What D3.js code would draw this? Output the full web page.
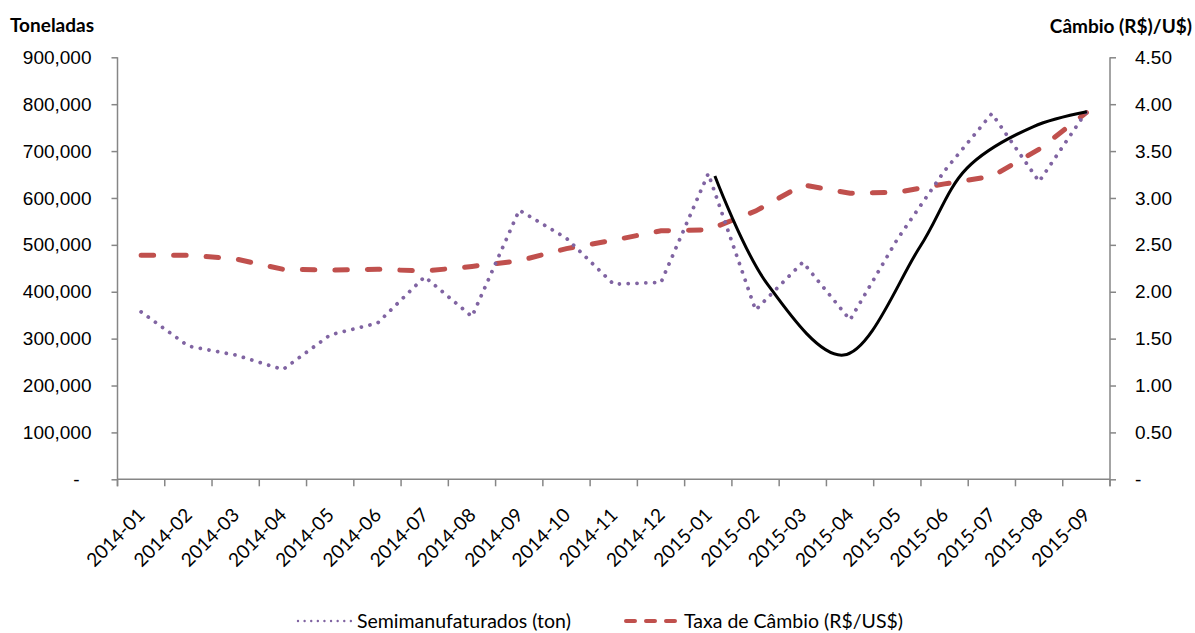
<!DOCTYPE html>
<html>
<head>
<meta charset="utf-8">
<script src="https://cdn.jsdelivr.net/npm/d3@7"></script>
<style>
  html, body { margin: 0; padding: 0; background: #fff; }
  svg { display: block; font-family: Lato, "Open Sans", sans-serif; }
</style>
</head>
<body>
<svg id="chart" width="1195" height="633"></svg>
<script>
// Monthly categories
const months = [
  "2014-01","2014-02","2014-03","2014-04","2014-05","2014-06","2014-07",
  "2014-08","2014-09","2014-10","2014-11","2014-12","2015-01","2015-02",
  "2015-03","2015-04","2015-05","2015-06","2015-07","2015-08","2015-09"
];

// Semimanufactured exports, tonnes (left axis)
const semimanufaturados = [
  357000, 284000, 265000, 234000, 308000, 333000, 432000,
  347000, 574000, 514000, 416000, 420000, 652000, 361000,
  463000, 340000, 512000, 658000, 780000, 635000, 784000
];

// Exchange rate R$/US$ (right axis)
const cambio = [
  2.39, 2.39, 2.35, 2.24, 2.23, 2.24, 2.22,
  2.27, 2.33, 2.46, 2.55, 2.65, 2.66, 2.86,
  3.14, 3.05, 3.06, 3.15, 3.23, 3.52, 3.91
];

// Freehand trend curve: [month position (0 = 2014-01), tonnes]
const trendPoints = [
  [12.14, 646700], [13.24, 417900], [14.86, 265000],
  [16.48, 496000], [17.47, 663100], [18.87, 751800], [20.01, 783800]
];

const leftTicks = [0, 100000, 200000, 300000, 400000, 500000, 600000, 700000, 800000, 900000];
const rightTicks = [0, 0.5, 1, 1.5, 2, 2.5, 3, 3.5, 4, 4.5];

const leftTitle = "Toneladas";
const rightTitle = "Câmbio (R$)/U$)";
const legendLabels = ["Semimanufaturados  (ton)", "Taxa de Câmbio (R$/US$)"];

const purple = "#8064A2";
const red = "#C0504D";
const axisGray = "#868686";

const svg = d3.select("#chart");
const plot = { left: 117.5, right: 1110, top: 57.3, bottom: 479.3 };

const x = d3.scaleBand().domain(months).range([plot.left, plot.right]).padding(0);
const xPos = i => plot.left + (i + 0.5) * x.step();
const yL = d3.scaleLinear().domain([0, 900000]).range([plot.bottom, plot.top]);
const yR = d3.scaleLinear().domain([0, 4.5]).range([plot.bottom, plot.top]);

const fmtL = d => d === 0 ? "-" : d3.format(",")(d);
const fmtR = d => d === 0 ? "-" : d3.format(".2f")(d);

// Left axis
const gL = svg.append("g").attr("transform", `translate(${plot.left},0)`)
  .call(d3.axisLeft(yL).tickValues(leftTicks).tickFormat(fmtL).tickSizeOuter(0).tickSize(6).tickPadding(20));
gL.select(".domain").attr("stroke", axisGray).attr("stroke-width", 1.5)
  .attr("d", `M0,${plot.top}V${plot.bottom + 7}`);
gL.selectAll(".tick line").attr("stroke", axisGray).attr("stroke-width", 1.5);
gL.selectAll(".tick text").attr("font-size", 19).attr("fill", "#000")
  .attr("dx", d => d === 0 ? -12 : 0);

// Right axis
const gR = svg.append("g").attr("transform", `translate(${plot.right},0)`)
  .call(d3.axisRight(yR).tickValues(rightTicks).tickFormat(fmtR).tickSizeOuter(0).tickSize(6).tickPadding(19));
gR.select(".domain").attr("stroke", axisGray).attr("stroke-width", 1.5)
  .attr("d", `M0,${plot.top}V${plot.bottom + 7}`);
gR.selectAll(".tick line").attr("stroke", axisGray).attr("stroke-width", 1.5);
gR.selectAll(".tick text").attr("font-size", 19).attr("fill", "#000");

// Bottom axis: ticks at category boundaries
const gX = svg.append("g").attr("transform", `translate(0,${plot.bottom})`);
gX.append("line").attr("x1", plot.left).attr("x2", plot.right)
  .attr("stroke", axisGray).attr("stroke-width", 1.5);
gX.selectAll("line.tk").data(d3.range(months.length + 1)).join("line")
  .attr("class", "tk")
  .attr("x1", i => plot.left + i * x.step()).attr("x2", i => plot.left + i * x.step())
  .attr("y1", 0).attr("y2", 7)
  .attr("stroke", axisGray).attr("stroke-width", 1.5);
gX.selectAll("text").data(months).join("text")
  .attr("transform", (d, i) => `translate(${xPos(i) + 5},${37}) rotate(-45)`)
  .attr("text-anchor", "end")
  .attr("font-size", 19)
  .attr("fill", "#000")
  .text(d => d);

// Axis titles
svg.append("text").attr("x", 10).attr("y", 32).attr("font-size", 19).attr("font-weight", "bold")
  .attr("fill", "#000").text(leftTitle);
svg.append("text").attr("x", 1192).attr("y", 33).attr("text-anchor", "end").attr("font-size", 19)
  .attr("font-weight", "bold").attr("fill", "#000").text(rightTitle);

// Exchange rate line (dashed)
svg.append("path")
  .datum(cambio)
  .attr("fill", "none")
  .attr("stroke", red)
  .attr("stroke-width", 5)
  .attr("stroke-linecap", "round")
  .attr("stroke-dasharray", "12.5 20")
  .attr("d", d3.line().x((d, i) => xPos(i)).y(d => yR(d)));

// Semimanufactured tonnage line (dotted)
svg.append("path")
  .datum(semimanufaturados)
  .attr("fill", "none")
  .attr("stroke", purple)
  .attr("stroke-width", 3.8)
  .attr("stroke-linecap", "round")
  .attr("stroke-dasharray", "0.01 8.8")
  .attr("d", d3.line().x((d, i) => xPos(i)).y(d => yL(d)));

// Freehand trend curve
svg.append("path")
  .datum(trendPoints)
  .attr("fill", "none")
  .attr("stroke", "#000")
  .attr("stroke-width", 3)
  .attr("d", d3.line().curve(d3.curveCatmullRom.alpha(0.5))
    .x(d => plot.left + (d[0] + 0.5) * x.step()).y(d => yL(d[1])));

// Legend
const legY = 621;
const leg = svg.append("g");
leg.append("line").attr("x1", 298).attr("x2", 352).attr("y1", legY).attr("y2", legY)
  .attr("stroke", purple).attr("stroke-width", 2.4).attr("stroke-linecap", "round")
  .attr("stroke-dasharray", "0.01 6.6");
leg.append("text").attr("x", 357).attr("y", legY + 7).attr("font-size", 19.5).attr("fill", "#000")
  .text(legendLabels[0]);
leg.append("line").attr("x1", 626).attr("x2", 678).attr("y1", legY).attr("y2", legY)
  .attr("stroke", red).attr("stroke-width", 4).attr("stroke-linecap", "round")
  .attr("stroke-dasharray", "9 11");
leg.append("text").attr("x", 684).attr("y", legY + 7).attr("font-size", 19.5).attr("fill", "#000")
  .text(legendLabels[1]);
</script>
</body>
</html>
